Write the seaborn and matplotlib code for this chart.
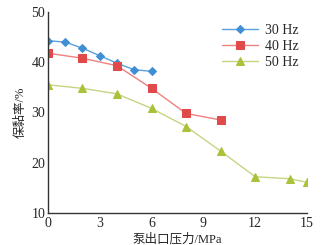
import pandas as pd
import numpy as np
import matplotlib
matplotlib.use('Agg')
import matplotlib.pyplot as plt
import seaborn as sns

# Daten
druck_30 = [0, 1, 2, 3, 4, 5, 6]
wert_30 = [44.3, 44.0, 42.8, 41.3, 39.8, 38.5, 38.2]
druck_40 = [0, 2, 4, 6, 8, 10]
wert_40 = [41.8, 40.8, 39.3, 34.8, 29.8, 28.5]
druck_50 = [0, 2, 4, 6, 8, 10, 12, 14, 15]
wert_50 = [35.5, 34.8, 33.7, 30.8, 27.2, 22.3, 17.2, 16.8, 16.1]
serien = ['30 Hz', '40 Hz', '50 Hz']
x_ticks = [0, 3, 6, 9, 12, 15]
y_ticks = [10, 20, 30, 40, 50]

sns.set_style('white')
plt.rcParams['font.family'] = ['Liberation Serif', 'Noto Sans CJK SC']

fig = plt.figure(figsize=(3.33, 2.45), dpi=100)
ax = fig.add_axes([0.144, 0.131, 0.778, 0.82])

stile = {
    '30 Hz': dict(marker='D', color='#3f8fd4', ms=3.8, lc='#5aa0dc'),
    '40 Hz': dict(marker='s', color='#e04a4a', ms=5.5, lc='#ee8080'),
    '50 Hz': dict(marker='^', color='#a9c23a', ms=5.5, lc='#c4d680'),
}

for name, xs, ys in zip(serien, [druck_30, druck_40, druck_50], [wert_30, wert_40, wert_50]):
    s = stile[name]
    df = pd.DataFrame({'x': xs, 'y': ys})
    sns.lineplot(data=df, x='x', y='y', ax=ax, color=s['lc'], linewidth=1.0,
                 marker=s['marker'], markersize=s['ms'], markerfacecolor=s['color'],
                 markeredgecolor=s['color'], label=name)

ax.set_xlim(0, 15)
ax.set_ylim(10, 50)
ax.set_xticks(x_ticks)
ax.set_yticks(y_ticks)
ax.tick_params(axis='both', direction='in', length=3, width=0.8, labelsize=10)
ax.tick_params(axis='x', pad=3)
ax.tick_params(axis='y', pad=2)
for side in ['top', 'right']:
    ax.spines[side].set_visible(False)
for side in ['left', 'bottom']:
    ax.spines[side].set_color('#333333')
    ax.spines[side].set_linewidth(1.0)

ax.set_xlabel('泵出口压力/MPa', fontsize=9, labelpad=2)
ax.set_ylabel('保黏率/%', fontsize=9, labelpad=3)

leg = ax.legend(loc='upper right', bbox_to_anchor=(1.0, 0.98), frameon=False, fontsize=10,
                handlelength=2.6, borderaxespad=0.2, labelspacing=0.2, handletextpad=0.5)

fig.savefig('out.png', dpi=100)
